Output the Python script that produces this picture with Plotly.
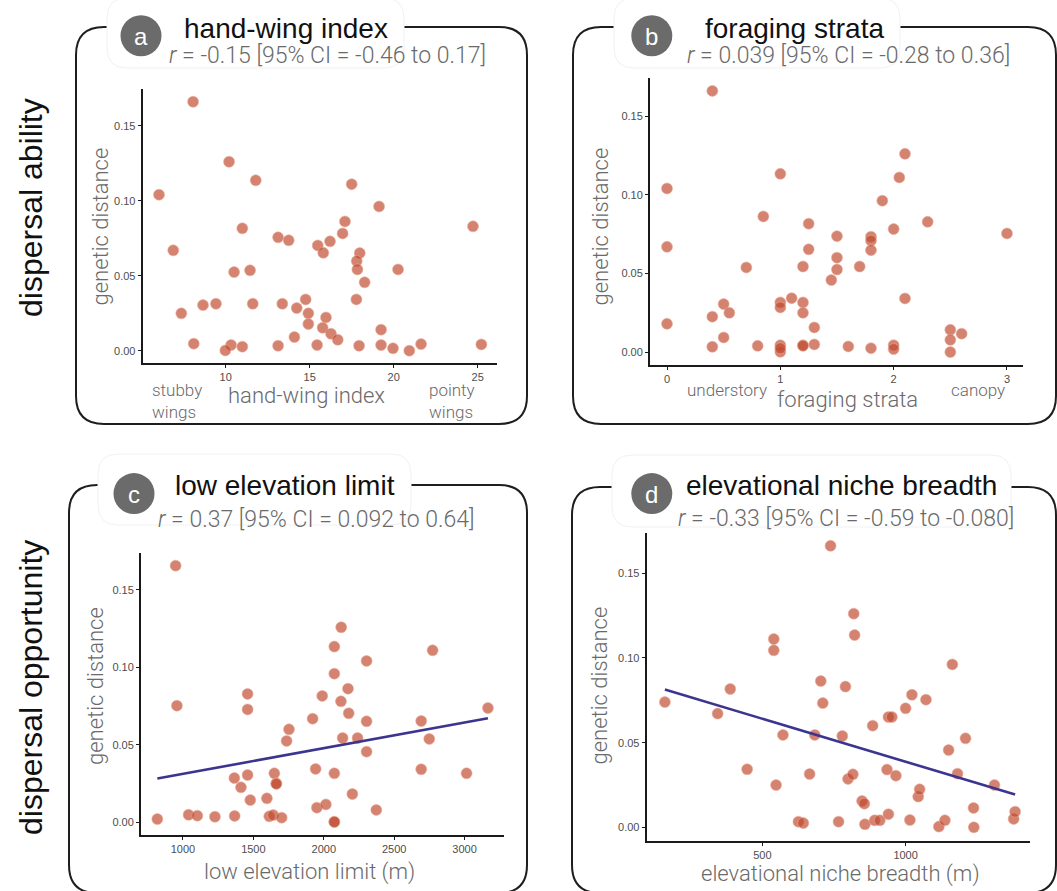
import numpy as np
import plotly.graph_objects as go

# ---------------- data ----------------
hwi = [8.06, 6.03, 10.2, 11.79, 17.5, 19.13, 6.88, 10.99, 24.72, 13.12, 13.75, 17.10, 16.96,
       15.48, 16.21, 15.81, 17.98, 17.80, 17.84, 10.50, 11.45, 20.26, 18.27, 8.65, 9.42, 7.36,
       11.61, 13.37, 14.76, 14.23, 14.92, 17.78, 15.97, 14.92, 15.77, 16.27, 14.09, 16.67, 19.25,
       8.10, 10.32, 9.98, 10.99, 13.12, 15.44, 17.94, 19.25, 19.96, 20.93, 21.63, 25.22]
gd_hwi = [0.166, 0.104, 0.126, 0.1136, 0.111, 0.0962, 0.0669, 0.0816, 0.0829, 0.0756, 0.0736,
          0.0862, 0.0782, 0.0702, 0.0729, 0.0653, 0.0651, 0.0598, 0.0542, 0.0524, 0.0536, 0.0542,
          0.0456, 0.0304, 0.0313, 0.0249, 0.0313, 0.0313, 0.0342, 0.0284, 0.0249, 0.0342, 0.0222,
          0.0178, 0.0153, 0.0113, 0.0091, 0.0073, 0.0140, 0.0047, 0.0038, 0.0002, 0.0027, 0.0033,
          0.0038, 0.0033, 0.0038, 0.0016, 0.0, 0.0044, 0.0042]

strata = [0.40, 0, 0, 0, 1.0, 2.10, 2.05, 1.90, 0.85, 1.25, 2.30, 2.0, 3.0, 1.50, 1.80, 1.80,
          1.25, 1.80, 1.50, 0.70, 1.20, 1.70, 1.50, 1.45, 1.10, 2.10, 0.50, 1.0, 1.0, 1.2, 0.55,
          1.2, 0.40, 1.30, 0.50, 2.50, 2.60, 2.50, 2.50, 0.40, 0.80, 1.0, 1.0, 1.0, 1.2, 1.2, 1.3,
          1.6, 1.8, 2.0, 2.0]
gd_strata = [0.166, 0.104, 0.0669, 0.018, 0.1133, 0.126, 0.111, 0.0962, 0.0862, 0.0816, 0.0828,
             0.0782, 0.0754, 0.0737, 0.0733, 0.0708, 0.0653, 0.0648, 0.0600, 0.0538, 0.0544,
             0.0544, 0.0525, 0.0458, 0.0343, 0.0341, 0.0305, 0.0316, 0.0284, 0.0316, 0.0250,
             0.0250, 0.0225, 0.0157, 0.0093, 0.0142, 0.0117, 0.0078, 0.0, 0.0034, 0.0040, 0.0044,
             0.0002, 0.0024, 0.0044, 0.0040, 0.0049, 0.0036, 0.0025, 0.0044, 0.0019]

low_elev = [948, 957, 818, 1040, 1102, 1227, 1367, 1459, 1459, 1365, 1459, 1412, 1478, 1753,
            1736, 1649, 1663, 1663, 1596, 1613, 1641, 1701, 1921, 1942, 1989, 2075, 2075, 2124,
            2122, 2172, 2177, 2134, 2240, 2075, 2304, 2304, 2304, 1951, 2015, 2075, 2075, 2203,
            2373, 2773, 2692, 2749, 2692, 3014, 3166]
gd_low = [0.1657, 0.0752, 0.0019, 0.0047, 0.0041, 0.0034, 0.0039, 0.0828, 0.0728, 0.0284,
          0.0304, 0.0224, 0.0142, 0.0599, 0.0524, 0.0315, 0.0250, 0.0246, 0.0153, 0.0037,
          0.0045, 0.0028, 0.0668, 0.0343, 0.0815, 0.1134, 0.0959, 0.1259, 0.0780, 0.0862,
          0.0703, 0.0543, 0.0543, 0.0315, 0.1041, 0.0651, 0.0455, 0.0093, 0.0114, 0.0002, 0.0,
          0.0181, 0.0078, 0.1110, 0.0653, 0.0537, 0.0341, 0.0315, 0.0737]

breadth = [160, 344, 388, 447, 540, 540, 548, 572, 626, 643, 665, 683, 704, 711, 738, 766, 779,
           790, 799, 816, 819, 822, 848, 856, 858, 885, 892, 910, 935, 940, 940, 952, 966, 1000,
           1015, 1022, 1044, 1049, 1071, 1116, 1137, 1150, 1163, 1181, 1209, 1237, 1238, 1310,
           1377, 1382]
gd_breadth = [0.0740, 0.0672, 0.0817, 0.0344, 0.1111, 0.1045, 0.0251, 0.0546, 0.0035, 0.0027,
              0.0316, 0.0546, 0.0864, 0.0734, 0.1661, 0.0035, 0.0540, 0.0831, 0.0287, 0.0314,
              0.1261, 0.1135, 0.0157, 0.0141, 0.0020, 0.0601, 0.0043, 0.0043, 0.0342, 0.0079,
              0.0652, 0.0652, 0.0306, 0.0703, 0.0045, 0.0783, 0.0183, 0.0226, 0.0754, 0.0006,
              0.0043, 0.0457, 0.0962, 0.0318, 0.0526, 0.0116, 0.0002, 0.0251, 0.0051, 0.0094]

y_ticks = [0.0, 0.05, 0.10, 0.15]
y_ticklabels = ["0.00", "0.05", "0.10", "0.15"]
x_ticks_a = [10, 15, 20, 25]
x_ticks_b = [0, 1, 2, 3]
x_ticks_c = [1000, 1500, 2000, 2500, 3000]
x_ticks_d = [500, 1000]

titles = ["hand-wing index", "foraging strata", "low elevation limit", "elevational niche breadth"]
subtitles = ["<i>r</i> = -0.15 [95% CI = -0.46 to 0.17]",
             "<i>r</i> = 0.039 [95% CI = -0.28 to 0.36]",
             "<i>r</i> = 0.37 [95% CI = 0.092 to 0.64]",
             "<i>r</i> = -0.33 [95% CI = -0.59 to -0.080]"]
letters = ["a", "b", "c", "d"]
x_titles = ["hand-wing index", "foraging strata", "low elevation limit (m)", "elevational niche breadth (m)"]
row_labels = ["dispersal ability", "dispersal opportunity"]

# ---------------- layout helpers ----------------
W, H = 1057, 891


def px(x):
    return x / W


def py(y):
    return 1 - y / H


PT_COLOR = "rgba(192,72,46,0.68)"
PT_LINE = "rgba(235,170,150,0.55)"
LINE_COLOR = "#3b3590"
LIGHT = "Roboto"
GRAY = "#6a6a6a"

fig = go.Figure()

panels = [
    dict(x=hwi, y=gd_hwi, xd=(142.7, 497), yd=(89, 362.7), xr=(5.06, 26.15), xt=x_ticks_a, fit=False),
    dict(x=strata, y=gd_strata, xd=(650, 1023.3), yd=(78.3, 364.7), xr=(-0.15, 3.144), xt=x_ticks_b, fit=False),
    dict(x=low_elev, y=gd_low, xd=(141, 504), yd=(553.3, 834.7), xr=(702, 3280), xt=x_ticks_c, fit=True),
    dict(x=breadth, y=gd_breadth, xd=(646.7, 1030), yd=(532.7, 840.7), xr=(96.5, 1434), xt=x_ticks_d, fit=True),
]
yranges = [(-0.008, 0.1745), (-0.008, 0.174), (-0.0082, 0.1737), (-0.0077, 0.1738)]

for i, p in enumerate(panels):
    k = "" if i == 0 else str(i + 1)
    xa, ya = "x" + k, "y" + k
    fig.add_trace(go.Scatter(
        x=p["x"], y=p["y"], mode="markers", xaxis=xa, yaxis=ya, showlegend=False,
        marker=dict(size=11, color=PT_COLOR, line=dict(width=1, color=PT_LINE))))
    if p["fit"]:
        xv = np.array(p["x"], dtype=float)
        yv = np.array(p["y"], dtype=float)
        slope, icpt = np.polyfit(xv, yv, 1)
        xs = np.array([xv.min(), xv.max()])
        fig.add_trace(go.Scatter(x=xs, y=slope * xs + icpt, mode="lines", xaxis=xa, yaxis=ya,
                                 showlegend=False, line=dict(color=LINE_COLOR, width=2.6)))
    axis_common = dict(showline=True, linecolor="#1a1a1a", linewidth=2, ticks="outside", ticklen=3,
                       tickwidth=1, tickcolor="#1a1a1a", showgrid=False, zeroline=False,
                       tickfont=dict(family="Liberation Sans", size=11, color="#4d4d4d"))
    fig.update_layout(**{
        ("xaxis" + k): dict(domain=[px(p["xd"][0]), px(p["xd"][1])], range=list(p["xr"]),
                            tickvals=p["xt"], anchor=ya, **axis_common),
        ("yaxis" + k): dict(domain=[py(p["yd"][1]), py(p["yd"][0])], range=list(yranges[i]),
                            tickvals=y_ticks, ticktext=y_ticklabels, anchor=xa, **axis_common),
    })

# ---------------- frames, title boxes, badges ----------------
shapes = []


def rounded_path(L, T, R, B, r):
    pts = [
        f"M {px(L + r)} {py(T)}", f"L {px(R - r)} {py(T)}", f"Q {px(R)} {py(T)} {px(R)} {py(T + r)}",
        f"L {px(R)} {py(B - r)}", f"Q {px(R)} {py(B)} {px(R - r)} {py(B)}",
        f"L {px(L + r)} {py(B)}", f"Q {px(L)} {py(B)} {px(L)} {py(B - r)}",
        f"L {px(L)} {py(T + r)}", f"Q {px(L)} {py(T)} {px(L + r)} {py(T)}", "Z"]
    return " ".join(pts)


frames = [(76, 27, 527, 424), (573, 27, 1056, 424), (69, 485, 527, 893), (572, 487, 1056, 893)]
boxes = [(107, -2, 404, 68), (614, -2, 900, 68), (98, 454, 411, 525), (612, 455, 1011, 527)]
badges = [(141, 35.7), (651.8, 35.7), (134, 493.6), (651.8, 493.6)]
title_pos = [(182, 28.6), (703, 28.6), (173, 485.7), (684, 485.7)]
sub_pos = [(167, 55), (685, 55), (156, 519), (676, 518)]
xtitle_pos = [(306.5, 395), (847.5, 399), (309, 872), (840, 874)]
ytitle_pos = [(99.5, 227), (600, 226.5), (95, 686), (598.5, 686)]

for (L, T, R, B) in frames:
    shapes.append(dict(type="path", xref="paper", yref="paper", path=rounded_path(L, T, R, B, 28),
                       line=dict(color="#1e1e1e", width=2), fillcolor="rgba(0,0,0,0)"))
for (L, T, R, B) in boxes:
    shapes.append(dict(type="path", xref="paper", yref="paper", path=rounded_path(L, T, R, B, 20),
                       line=dict(color="#f1f1f1", width=1), fillcolor="white"))
for (cx, cy) in badges:
    shapes.append(dict(type="circle", xref="paper", yref="paper", x0=px(cx - 20.5), x1=px(cx + 20.5),
                       y0=py(cy + 20.5), y1=py(cy - 20.5), fillcolor="#6b6b6b", line=dict(width=0)))

ann = []
for i in range(4):
    cx, cy = badges[i]
    ann.append(dict(x=px(cx), y=py(cy + 1), xref="paper", yref="paper", text=letters[i], showarrow=False,
                    xanchor="center", yanchor="middle", font=dict(family="Liberation Sans", size=24, color="white")))
    tx, ty = title_pos[i]
    ann.append(dict(x=px(tx), y=py(ty), xref="paper", yref="paper", text=titles[i], showarrow=False,
                    xanchor="left", yanchor="middle", font=dict(family="Liberation Sans", size=28, color="#111111")))
    sx, sy = sub_pos[i]
    ann.append(dict(x=px(sx), y=py(sy), xref="paper", yref="paper", text=subtitles[i], showarrow=False,
                    xanchor="left", yanchor="middle", font=dict(family=LIGHT, size=23, color=GRAY, weight=300)))
    xx, xy = xtitle_pos[i]
    ann.append(dict(x=px(xx), y=py(xy), xref="paper", yref="paper", text=x_titles[i], showarrow=False,
                    xanchor="center", yanchor="middle", font=dict(family=LIGHT, size=22, color=GRAY, weight=300)))
    yx, yy = ytitle_pos[i]
    ann.append(dict(x=px(yx), y=py(yy), xref="paper", yref="paper", text="genetic distance", showarrow=False,
                    textangle=-90, xanchor="center", yanchor="middle",
                    font=dict(family=LIGHT, size=22, color=GRAY, weight=300)))

side = [("stubby<br>wings", 176.7, 401), ("pointy<br>wings", 451.5, 401), ("understory", 726.5, 390), ("canopy", 978, 390)]
for t, x, y in side:
    ann.append(dict(x=px(x), y=py(y), xref="paper", yref="paper", text=t, showarrow=False,
                    xanchor="center", yanchor="middle", align="left",
                    font=dict(family=LIGHT, size=17, color=GRAY, weight=300)))

for t, y in zip(row_labels, [208, 688]):
    ann.append(dict(x=px(31), y=py(y), xref="paper", yref="paper", text=t, showarrow=False, textangle=-90,
                    xanchor="center", yanchor="middle", font=dict(family="Liberation Sans", size=32, color="#111111")))

fig.update_layout(width=W, height=H, autosize=False, margin=dict(l=0, r=0, t=0, b=0),
                  paper_bgcolor="white", plot_bgcolor="white", shapes=shapes, annotations=ann)

fig.write_html("out.html", config={"displayModeBar": False},
               post_script="document.body.style.margin='0';document.body.style.padding='0';"
                           "document.documentElement.style.margin='0';document.body.style.overflow='hidden';")
